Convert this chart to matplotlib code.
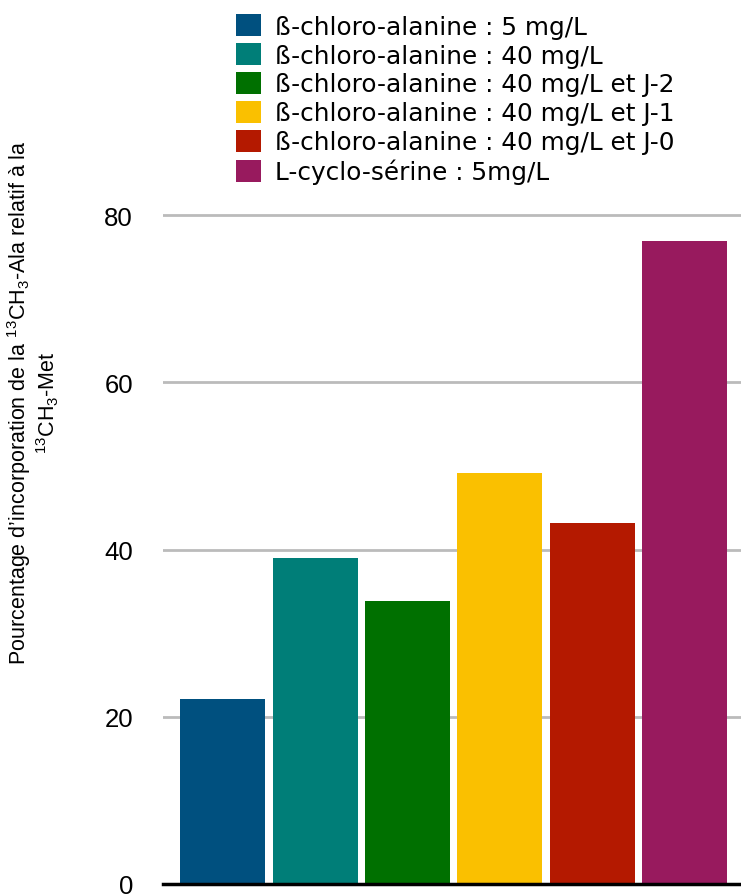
import matplotlib
matplotlib.use("Agg")

import matplotlib.pyplot as plt
from matplotlib.patches import Patch

# Data
labels = [
    "ß-chloro-alanine : 5 mg/L",
    "ß-chloro-alanine : 40 mg/L",
    "ß-chloro-alanine : 40 mg/L et J-2",
    "ß-chloro-alanine : 40 mg/L et J-1",
    "ß-chloro-alanine : 40 mg/L et J-0",
    "L-cyclo-sérine : 5mg/L",
]
values = [22.1, 39.0, 33.8, 49.1, 43.2, 76.9]
colors = ["#00507F", "#007E78", "#007000", "#FAC000", "#B41900", "#981A5E"]
yticks = [0, 20, 40, 60, 80]

plt.rcParams["mathtext.fontset"] = "custom"
plt.rcParams["mathtext.rm"] = "Liberation Sans"

fig = plt.figure(figsize=(7.41, 8.95), dpi=100)
ax = fig.add_axes([163 / 741, 10 / 895, 578 / 741, 685.7 / 895])

x = range(len(values))
ax.bar(x, values, width=0.92, color=colors, zorder=2)

ax.set_ylim(0, 82)
ax.set_xlim(-0.645, 5.61)
ax.set_yticks(yticks)
ax.set_xticks([])
ax.yaxis.grid(True, color="#bbbbbb", linewidth=2, zorder=0)
ax.set_axisbelow(True)
ax.tick_params(axis="y", length=0, pad=21.6, labelsize=18.5)
for lab in ax.get_yticklabels():
    lab.set_fontfamily("Liberation Sans")
for side in ["top", "right", "left"]:
    ax.spines[side].set_visible(False)
ax.spines["bottom"].set_linewidth(2.5)
ax.spines["bottom"].set_color("black")
ax.spines["bottom"].set_zorder(3)

ylabel = (r"Pourcentage d’incorporation de la $^{13}$CH$_3$-Ala relatif à la"
          + "\n" + r"$^{13}$CH$_3$-Met")
fig.text(33 / 741, 1 - 403 / 895, ylabel, rotation=90, ha="center", va="center",
         multialignment="center", fontsize=15.5, family="Liberation Sans",
         linespacing=1.1)

handles = [Patch(facecolor=c, edgecolor="none") for c in colors]
fig.legend(handles, labels, loc="upper left",
           bbox_to_anchor=(236 / 741, 1 - 15 / 895),
           frameon=False, borderpad=0, borderaxespad=0,
           handlelength=1.0, handleheight=1.0, labelspacing=0.18,
           handletextpad=0.56, prop={"family": "DejaVu Sans", "size": 17.8})

fig.savefig("out.png", dpi=100)
